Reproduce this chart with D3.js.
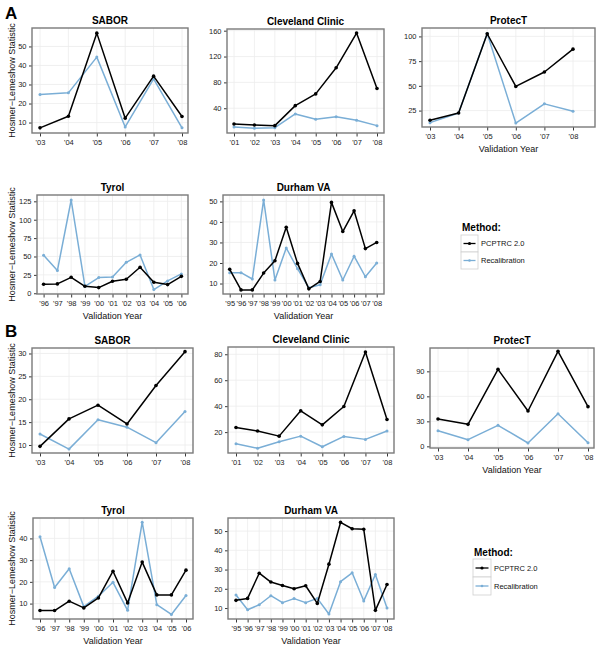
<!DOCTYPE html>
<html><head><meta charset="utf-8">
<script src="https://cdn.jsdelivr.net/npm/d3@7"></script>
<style>body{margin:0;background:#fff} svg{display:block} text{font-family:"Liberation Sans",Arial,Helvetica,sans-serif}</style>
</head><body><svg id="c" width="603" height="650"></svg>
<script>
// ---------- data ----------
const methods = ["PCPTRC 2.0", "Recalibration"];
const yearsSABOR = ["'03","'04","'05","'06","'07","'08"];
const yearsCleveland = ["'01","'02","'03","'04","'05","'06","'07","'08"];
const yearsProtecT = ["'03","'04","'05","'06","'07","'08"];
const yearsTyrol = ["'96","'97","'98","'99","'00","'01","'02","'03","'04","'05","'06"];
const yearsDurham = ["'95","'96","'97","'98","'99","'00","'01","'02","'03","'04","'05","'06","'07","'08"];

// Panel A
const aSABOR_pcptrc = [7.2, 13.3, 57, 12.3, 34.4, 13.2];
const aSABOR_recal = [24.8, 25.6, 44.4, 7.7, 33, 7.2];
const aCleveland_pcptrc = [15.7, 14.1, 13.1, 44, 62.2, 102.6, 156.4, 70.5];
const aCleveland_recal = [11, 9, 10, 31.2, 23, 27, 21.4, 13.1];
const aProtecT_pcptrc = [15.2, 22.6, 102.7, 49.4, 64, 87.1];
const aProtecT_recal = [12.8, 22.6, 103, 12.4, 31.8, 24.3];
const aTyrol_pcptrc = [12.2, 12.7, 21.7, 9.5, 7.7, 16.3, 19, 35.3, 15, 11.8, 23];
const aTyrol_recal = [51.6, 30.8, 126.8, 9.5, 21.3, 22.2, 42.1, 52.1, 5, 16.8, 26.3];
const aDurham_pcptrc = [16.9, 6.9, 6.9, 15.1, 21.1, 37.4, 19.8, 7.4, 11, 49.5, 35.3, 45.4, 27, 30];
const aDurham_recal = [15.3, 15.3, 12.2, 50.7, 11.7, 27.3, 17.2, 7.9, 9.4, 24.4, 11.7, 23.3, 13.3, 20];

// Panel B
const bSABOR_pcptrc = [9.7, 15.7, 18.7, 14.6, 23, 30.4];
const bSABOR_recal = [12.4, 9.1, 15.5, 13.9, 10.5, 17.3];
const bCleveland_pcptrc = [23.6, 20.8, 16.9, 36.4, 25.6, 39.7, 81.8, 29.7];
const bCleveland_recal = [11.1, 7.5, 12.6, 16.9, 8.7, 16.7, 14.4, 20.8];
const bProtecT_pcptrc = [32.8, 26.4, 92.4, 42.4, 114, 47.6];
const bProtecT_recal = [18.8, 8, 25.2, 4, 39.2, 4.4];
const bTyrol_pcptrc = [6.8, 6.8, 11.1, 8, 12.6, 24.9, 10.3, 29.1, 14, 14, 25.4];
const bTyrol_recal = [40.8, 17.4, 26, 8.6, 13.4, 19.8, 6.9, 47.5, 9.5, 5, 13.7];
const bDurham_pcptrc = [14, 15, 28.1, 23.5, 21.7, 20, 21.6, 12.4, 32.8, 54.5, 51.2, 50.9, 8.8, 22.2];
const bDurham_recal = [16.8, 9.1, 11.7, 16.4, 12.8, 14.9, 12.8, 15, 6.9, 23.7, 28.3, 13.7, 27.4, 10];

// y tick labels
const ticksA_SABOR = [10, 20, 30, 40, 50];
const ticksA_Cleveland = [40, 80, 120, 160];
const ticksA_ProtecT = [25, 50, 75, 100];
const ticksA_Tyrol = [0, 25, 50, 75, 100, 125];
const ticksA_Durham = [10, 20, 30, 40, 50];
const ticksB_SABOR = [10, 15, 20, 25, 30];
const ticksB_Cleveland = [20, 40, 60, 80];
const ticksB_ProtecT = [0, 30, 60, 90];
const ticksB_Tyrol = [10, 20, 30, 40];
const ticksB_Durham = [10, 20, 30, 40, 50];

// ---------- layout (positions / styles) ----------
const COL_BLACK = "#000000", COL_BLUE = "#7aaed6";
const yTitle = "Hosmer\u2212Lemeshow Statistic", xTitle = "Validation Year";

const panels = [
  {title:"SABOR", years:yearsSABOR, s1:aSABOR_pcptrc, s2:aSABOR_recal, ticks:ticksA_SABOR, yd:[4.5,59.7], x0:32,x1:188,y0:28,y1:133,pl:8,pr:6, ylab:true},
  {title:"Cleveland Clinic", years:yearsCleveland, s1:aCleveland_pcptrc, s2:aCleveland_recal, ticks:ticksA_Cleveland, yd:[1.7,162.6], x0:227,x1:384,y0:29,y1:133,pl:7,pr:7},
  {title:"ProtecT", years:yearsProtecT, s1:aProtecT_pcptrc, s2:aProtecT_recal, ticks:ticksA_ProtecT, yd:[8.4,108.5], x0:422,x1:595,y0:28,y1:127,pl:8,pr:22, xlab:true},
  {title:"Tyrol", years:yearsTyrol, s1:aTyrol_pcptrc, s2:aTyrol_recal, ticks:ticksA_Tyrol, yd:[-1,133.6], x0:37,x1:188,y0:195,y1:294,pl:6.6,pr:6.6, ylab:true, xlab:true},
  {title:"Durham VA", years:yearsDurham, s1:aDurham_pcptrc, s2:aDurham_recal, ticks:ticksA_Durham, yd:[4.9,53.1], x0:223,x1:384,y0:195,y1:294,pl:6.7,pr:7.3, xlab:true},
  {title:"SABOR", years:yearsSABOR, s1:bSABOR_pcptrc, s2:bSABOR_recal, ticks:ticksB_SABOR, yd:[8.25,31.2], x0:32,x1:193,y0:348,y1:453,pl:8,pr:8, ylab:true},
  {title:"Cleveland Clinic", years:yearsCleveland, s1:bCleveland_pcptrc, s2:bCleveland_recal, ticks:ticksB_Cleveland, yd:[3.9,85.6], x0:228,x1:394,y0:347,y1:453,pl:8,pr:7},
  {title:"ProtecT", years:yearsProtecT, s1:bProtecT_pcptrc, s2:bProtecT_recal, ticks:ticksB_ProtecT, yd:[-2,118], x0:430,x1:594,y0:348,y1:448,pl:8,pr:6, xlab:true},
  {title:"Tyrol", years:yearsTyrol, s1:bTyrol_pcptrc, s2:bTyrol_recal, ticks:ticksB_Tyrol, yd:[2.9,49.4], x0:33,x1:193,y0:518,y1:619,pl:7,pr:7, ylab:true, xlab:true},
  {title:"Durham VA", years:yearsDurham, s1:bDurham_pcptrc, s2:bDurham_recal, ticks:ticksB_Durham, yd:[4.3,56.8], x0:228,x1:394,y0:518,y1:619,pl:8,pr:7, xlab:true}
];

const legends = [
  {x:461, ty:231, by:235, bh:17, bw:17},
  {x:473, ty:556, by:559, bh:18, bw:18}
];

const svg = d3.select("#c");

svg.append("text").attr("x",5).attr("y",19).attr("font-size",17).attr("font-weight","bold").text("A");
svg.append("text").attr("x",5).attr("y",337).attr("font-size",17).attr("font-weight","bold").text("B");

function drawPanel(p) {
  const g = svg.append("g");
  const x = d3.scalePoint().domain(p.years).range([p.x0 + p.pl, p.x1 - p.pr]);
  const y = d3.scaleLinear().domain(p.yd).range([p.y1, p.y0]);

  // grid
  g.append("g").selectAll("line").data(p.years).join("line")
    .attr("x1", d => x(d)).attr("x2", d => x(d)).attr("y1", p.y0).attr("y2", p.y1)
    .attr("stroke", "#ececec").attr("stroke-width", 0.8);
  g.append("g").selectAll("line").data(p.ticks).join("line")
    .attr("x1", p.x0).attr("x2", p.x1).attr("y1", d => y(d)).attr("y2", d => y(d))
    .attr("stroke", "#ececec").attr("stroke-width", 0.8);

  // axes
  const xa = g.append("g").attr("transform", `translate(0,${p.y1})`)
    .call(d3.axisBottom(x).tickSize(3.5).tickPadding(3));
  const ya = g.append("g").attr("transform", `translate(${p.x0},0)`)
    .call(d3.axisLeft(y).tickValues(p.ticks).tickSize(3).tickPadding(2.5));
  [xa, ya].forEach(a => {
    a.select(".domain").remove();
    a.selectAll(".tick line").attr("stroke", "#222").attr("stroke-width", 0.9);
    a.selectAll(".tick text").attr("font-size", 7.5).attr("fill", "#222")
      .attr("font-family", '"Liberation Sans",Arial,sans-serif');
  });

  // box
  g.append("rect").attr("x", p.x0).attr("y", p.y0).attr("width", p.x1 - p.x0).attr("height", p.y1 - p.y0)
    .attr("fill", "none").attr("stroke", "#7a7a7a").attr("stroke-width", 1.4);

  // series
  const series = [{vals: p.s2, col: COL_BLUE, r: 1.5}, {vals: p.s1, col: COL_BLACK, r: 1.8}];
  const line = d3.line().x((d, i) => x(p.years[i])).y(d => y(d));
  series.forEach(s => {
    g.append("path").datum(s.vals).attr("d", line).attr("fill", "none")
      .attr("stroke", s.col).attr("stroke-width", 1.5).attr("stroke-linejoin", "round");
    g.append("g").selectAll("circle").data(s.vals).join("circle")
      .attr("cx", (d, i) => x(p.years[i])).attr("cy", d => y(d)).attr("r", s.r).attr("fill", s.col);
  });

  // title
  g.append("text").attr("x", (p.x0 + p.x1) / 2).attr("y", p.y0 - 4.5).attr("text-anchor", "middle")
    .attr("font-size", 10).attr("font-weight", "bold").text(p.title);

  if (p.ylab) {
    g.append("text").attr("transform", `translate(15,${(p.y0 + p.y1) / 2}) rotate(-90)`)
      .attr("text-anchor", "middle").attr("font-size", 9).attr("fill", "#111").text(yTitle);
  }
  if (p.xlab) {
    g.append("text").attr("x", (p.x0 + p.x1) / 2).attr("y", p.y1 + 24.5).attr("text-anchor", "middle")
      .attr("font-size", 9).attr("fill", "#111").text(xTitle);
  }
}
panels.forEach(drawPanel);

function drawLegend(L) {
  const g = svg.append("g");
  g.append("text").attr("x", L.x + 1).attr("y", L.ty).attr("font-size", 10).attr("font-weight", "bold").text("Method:");
  const cols = [COL_BLACK, COL_BLUE];
  methods.forEach((m, i) => {
    const top = L.by + i * L.bh;
    g.append("rect").attr("x", L.x).attr("y", top).attr("width", L.bw).attr("height", L.bh)
      .attr("fill", "#fff").attr("stroke", "#cfcfcf").attr("stroke-width", 0.8);
    const cy = top + L.bh / 2;
    g.append("line").attr("x1", L.x + 2.5).attr("x2", L.x + L.bw - 2.5).attr("y1", cy).attr("y2", cy)
      .attr("stroke", cols[i]).attr("stroke-width", 1.3);
    g.append("circle").attr("cx", L.x + L.bw / 2).attr("cy", cy).attr("r", i === 0 ? 1.6 : 1.3).attr("fill", cols[i]);
    g.append("text").attr("x", L.x + L.bw + 3).attr("y", cy).attr("dy", "0.35em")
      .attr("font-size", 7.5).attr("fill", "#111").text(m);
  });
}
legends.forEach(drawLegend);
</script></body></html>
